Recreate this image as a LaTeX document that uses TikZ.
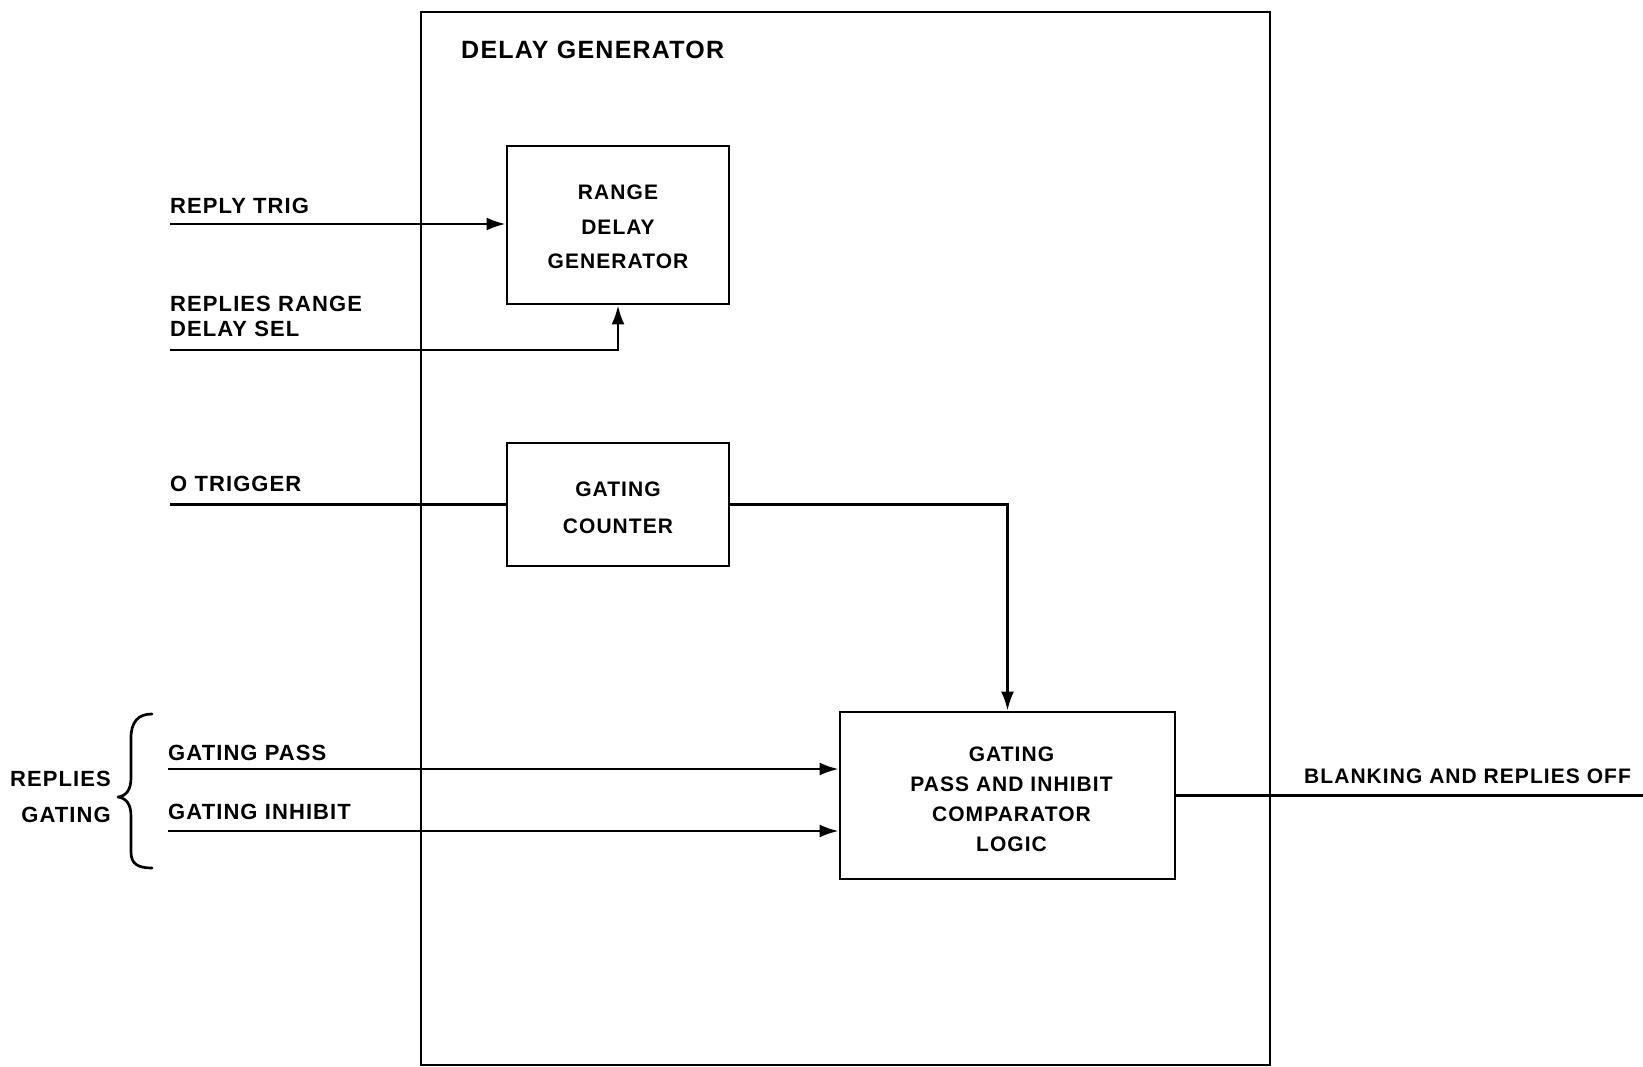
\documentclass[tikz,border=0pt]{standalone}
\usepackage{fontspec}
\setmainfont{Liberation Sans}[LetterSpace=5]
\usetikzlibrary{arrows.meta}
\begin{document}
\begin{tikzpicture}[x=1pt,y=-1pt,
  ln/.style={line width=2.7pt},
  arr/.style={ln,-{Latex[length=19pt,width=13pt]}},
  blk/.style={draw,line width=2.7pt,inner sep=0pt},
  lbl/.style={font=\bfseries\fontsize{22}{25}\selectfont,inner sep=0pt,align=left},
  btxt/.style={inner sep=0pt,align=center}]
\useasboundingbox (0,0) rectangle (1643,1067);
% outer box
\node[draw,line width=2.7pt,minimum width=849pt,minimum height=1053pt,inner sep=0pt] (outer) at (845.5,538.5) {};
\node[lbl,anchor=west,font=\bfseries\fontsize{25}{28}\selectfont] (title) at (461,50) {DELAY GENERATOR};
% blocks
\node[blk,minimum width=222pt,minimum height=158pt] (range) at (618,225) {};
\node[blk,minimum width=222pt,minimum height=123pt] (counter) at (618,504.5) {};
\node[blk,minimum width=335pt,minimum height=167pt] (comp) at (1007.5,795.5) {};
\node[btxt,font=\bfseries\fontsize{21}{34.5}\selectfont] (rangetxt) at ([yshift=-2pt]range.center) {RANGE\\DELAY\\GENERATOR};
\node[btxt,font=\bfseries\fontsize{21}{37}\selectfont] (countertxt) at ([yshift=-3pt]counter.center) {GATING\\COUNTER};
\node[btxt,font=\bfseries\fontsize{21}{30}\selectfont] (comptxt) at ([xshift=4pt,yshift=-3.5pt]comp.center) {GATING\\PASS AND INHIBIT\\COMPARATOR\\LOGIC};
% labels
\node[lbl,anchor=west] (lrt) at (170,206) {REPLY TRIG};
\node[lbl,anchor=west] (lrs) at (170,316) {REPLIES RANGE\\DELAY SEL};
\node[lbl,anchor=west] (lot) at (170,484) {O TRIGGER};
\node[lbl,anchor=west] (lgp) at (168,753) {GATING PASS};
\node[lbl,anchor=west] (lgi) at (168,812) {GATING INHIBIT};
\node[lbl,anchor=east,align=right,font=\bfseries\fontsize{22}{36}\selectfont] (lrg) at (111,797) {REPLIES\\GATING};
\node[lbl,anchor=west,font=\bfseries\fontsize{21}{25}\selectfont] (lout) at (1304,776) {BLANKING AND REPLIES OFF};
% connector start/end points
\coordinate (rt) at (170,224);
\coordinate (rs) at (170,350);
\coordinate (ot) at (170,504.5);
\coordinate (gp) at (168,769);
\coordinate (gi) at (168,831);
\coordinate (out) at (1650,795.5);
% connectors
\draw[arr] (rt) -- (rt -| range.west);
\draw[arr] (rs) -| (range.south);
\draw[ln] (ot) -- (counter.west);
\draw[arr] (counter.east) -| (comp.north);
\draw[arr] (gp) -- (gp -| comp.west);
\draw[arr] (gi) -- (gi -| comp.west);
\draw[ln] (comp.east) -- (out);
% brace
\draw[line width=2.7pt,line cap=round,line join=round]
  (152,714) .. controls (138,714) and (131,722) .. (131,738)
  -- (131,778) .. controls (131,790) and (126,796) .. (118,797)
  .. controls (126,798) and (131,804) .. (131,816)
  -- (131,852) .. controls (131,864) and (138,868) .. (152,868);
\end{tikzpicture}
\end{document}
